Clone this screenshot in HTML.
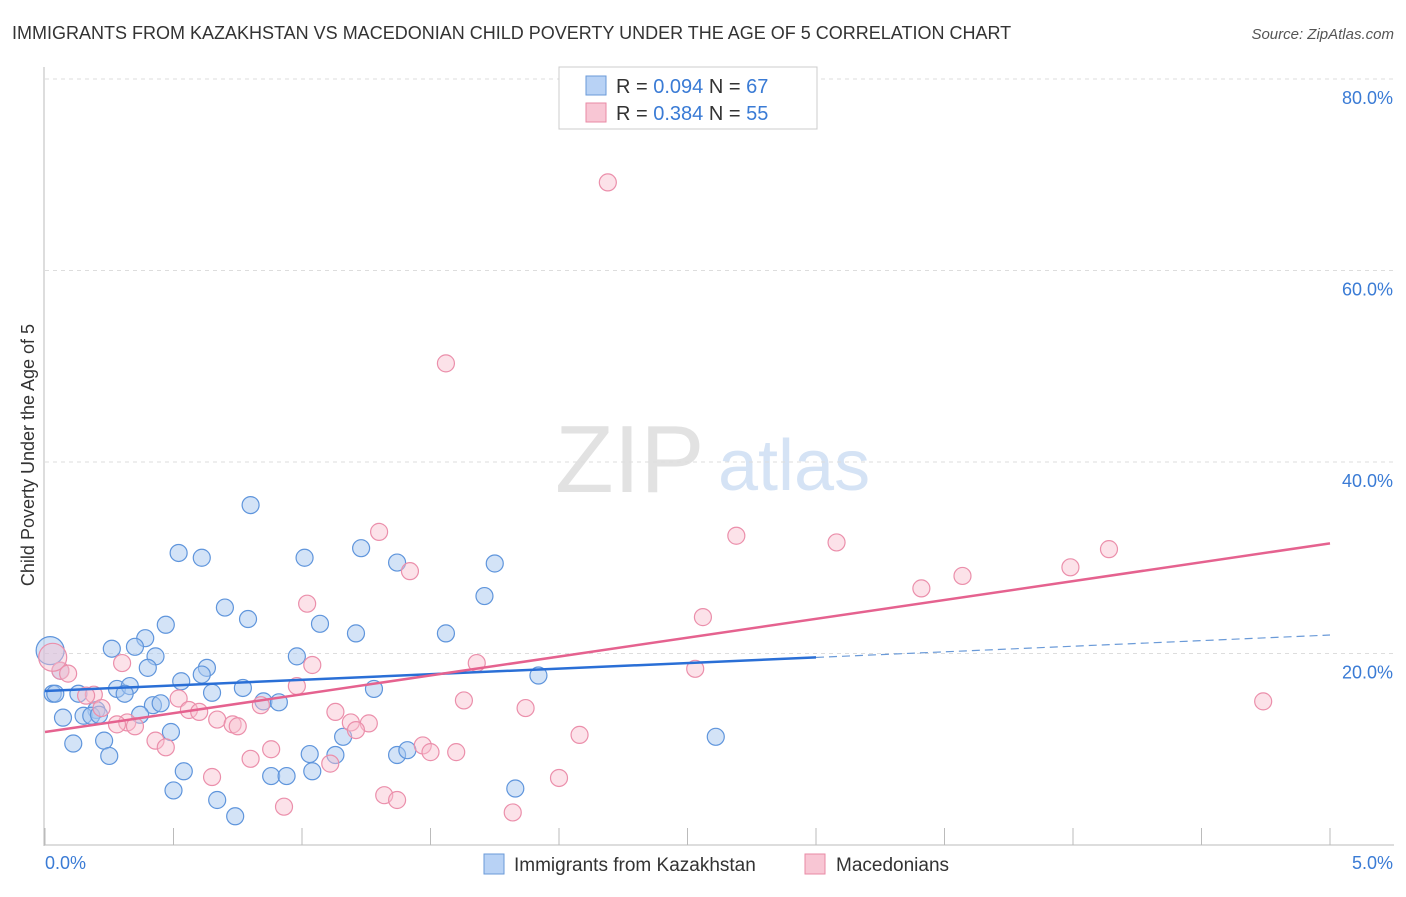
<!DOCTYPE html>
<html><head><meta charset="utf-8"><style>
body{margin:0;background:#fff;font-family:"Liberation Sans",sans-serif;}
svg text{font-family:"Liberation Sans",sans-serif;}
</style></head><body>
<svg id="chart" width="1406" height="892">
<text x="12" y="39" font-size="18" fill="#333">IMMIGRANTS FROM KAZAKHSTAN VS MACEDONIAN CHILD POVERTY UNDER THE AGE OF 5 CORRELATION CHART</text>
<text x="1394" y="39" font-size="15" fill="#555" text-anchor="end" font-style="italic">Source: ZipAtlas.com</text>
<text x="555" y="492" font-size="96" fill="#e2e2e2" font-family="Liberation Serif">ZIP</text>
<text x="718" y="490" font-size="72" fill="#d5e3f5">atlas</text>
<text transform="translate(34,455) rotate(-90)" font-size="18" fill="#333" text-anchor="middle">Child Poverty Under the Age of 5</text>
<g id="grid"></g><g id="pts"></g><g id="lines"></g>
<g>
<rect x="559" y="67" width="258" height="62" fill="#fff" stroke="#ccc"/>
<rect x="586" y="76" width="20" height="19" fill="#b8d2f5" stroke="#6a9ad8"/>
<text x="616" y="93" font-size="20" fill="#333">R = <tspan fill="#3a7bd5">0.094</tspan>   N = <tspan fill="#3a7bd5">67</tspan></text>
<rect x="586" y="103" width="20" height="19" fill="#f8c6d4" stroke="#e98aa5"/>
<text x="616" y="120" font-size="20" fill="#333">R = <tspan fill="#3a7bd5">0.384</tspan>   N = <tspan fill="#3a7bd5">55</tspan></text>
</g>
<g>
<rect x="484" y="854" width="20" height="20" fill="#b8d2f5" stroke="#6a9ad8"/>
<text x="514" y="871" font-size="19" fill="#333">Immigrants from Kazakhstan</text>
<rect x="805" y="854" width="20" height="20" fill="#f8c6d4" stroke="#e98aa5"/>
<text x="836" y="871" font-size="19" fill="#333">Macedonians</text>
</g>
</svg>
<script>
const yTicks=[20,40,60,80];
const yTickLabels=["20.0%","40.0%","60.0%","80.0%"];
const xTickLabels=["0.0%","5.0%"];
const blueX=[0.80,0.52,0.61,1.01,1.23,1.37,1.75,1.71,0.70,0.79,1.07,0.47,0.39,1.21,1.56,0.26,0.35,0.43,0.98,0.63,0.40,0.61,0.53,1.92,0.02,0.06,0.03,0.04,0.13,0.28,0.33,0.31,0.65,0.77,1.28,0.42,0.45,0.85,0.91,0.20,0.07,0.15,0.18,0.21,0.37,0.49,0.23,0.11,1.16,2.61,1.03,1.13,1.37,1.41,0.25,0.54,0.88,0.94,1.04,0.50,0.67,0.74,1.83];
const blueY=[35.5,30.5,30.0,30.0,31.0,29.5,29.4,26.0,24.8,23.6,23.1,23.0,21.6,22.1,22.1,20.5,20.7,19.7,19.7,18.5,18.5,17.8,17.1,17.7,20.3,18.2,15.8,15.8,15.8,16.3,16.6,15.8,15.9,16.4,16.3,14.6,14.8,15.0,14.9,14.1,13.3,13.5,13.5,13.6,13.6,11.8,10.9,10.6,11.3,11.3,9.5,9.4,9.4,9.9,9.3,7.7,7.2,7.2,7.7,5.7,4.7,3.0,5.9];
const pinkX=[2.19,1.56,1.30,2.69,3.08,4.14,3.99,3.57,3.41,1.42,1.02,2.56,1.68,2.53,1.04,0.06,0.09,0.30,0.19,0.52,0.98,4.74,1.63,1.87,0.22,0.56,0.60,0.84,1.13,0.32,0.28,0.35,0.67,0.73,0.75,1.19,1.26,1.21,0.43,2.08,0.47,0.88,0.80,1.11,1.47,1.50,1.60,0.65,2.00,1.32,1.37,0.93,1.82,0.16,0.03];
const pinkY=[69.2,50.3,32.7,32.3,31.6,30.9,29.0,28.1,26.8,28.6,25.2,23.8,19.0,18.4,18.8,18.2,17.9,19.0,15.7,15.3,16.6,15.0,15.1,14.3,14.3,14.1,13.9,14.6,13.9,12.8,12.6,12.4,13.1,12.6,12.4,12.8,12.7,12.0,10.9,11.5,10.2,10.0,9.0,8.5,10.4,9.7,9.7,7.1,7.0,5.2,4.7,4.0,3.4,15.6,19.6];
const blueFit=[16.08,21.93];
const pinkFit=[11.8,31.5];
const blueSolidEnd=3.0;
const X0=45,X1=1330,Y0=845,PPY=9.575;
function sx(v){return X0+(X1-X0)*v/5;}
function sy(v){return Y0-v*PPY;}
const NS="http://www.w3.org/2000/svg";
function mk(t,a,p){const e=document.createElementNS(NS,t);for(const k in a)e.setAttribute(k,a[k]);p.appendChild(e);return e;}
const grid=document.getElementById('grid');
mk('line',{x1:44,y1:67,x2:44,y2:846,stroke:'#bbb'},grid);
mk('line',{x1:44,y1:845,x2:1394,y2:845,stroke:'#bbb'},grid);
yTicks.forEach((t,i)=>{
 const l=mk('line',{x1:45,y1:sy(t),x2:1394,y2:sy(t),stroke:'#ddd','stroke-dasharray':'4,4'},grid);
 
 
 const tx=mk('text',{x:1393,y:sy(t)+25,'font-size':18,fill:'#3a7bd5','text-anchor':'end'},grid);
 tx.textContent=yTickLabels[i];
 
 
});
for(let i=0;i<=10;i++){
 const tk=mk('line',{x1:sx(i*0.5),y1:828,x2:sx(i*0.5),y2:845,stroke:'#bbb'},grid);
 
 
}
const xl0=mk('text',{x:45,y:869,'font-size':18,fill:'#3a7bd5'},grid);xl0.textContent=xTickLabels[0];


const xl1=mk('text',{x:1393,y:869,'font-size':18,fill:'#3a7bd5','text-anchor':'end'},grid);xl1.textContent=xTickLabels[1];


const pts=document.getElementById('pts');
blueX.forEach((x,i)=>{
 const c=mk('circle',{cx:sx(x),cy:sy(blueY[i]),r:(i==24?14:8.5),fill:'rgba(168,200,240,0.5)',stroke:'#5f95dc','stroke-width':1.2},pts);
 
 
});
pinkX.forEach((x,i)=>{
 const c=mk('circle',{cx:sx(x),cy:sy(pinkY[i]),r:(i==54?14:8.5),fill:'rgba(248,190,206,0.45)',stroke:'#eb8fab','stroke-width':1.2},pts);
 
 
});
const lines=document.getElementById('lines');
function fy(f,x){return f[0]+(f[1]-f[0])*x/5;}
const b1=mk('line',{x1:sx(0),y1:sy(fy(blueFit,0)),x2:sx(blueSolidEnd),y2:sy(fy(blueFit,blueSolidEnd)),stroke:'#2a6fd6','stroke-width':2.5},lines);


const b2=mk('line',{x1:sx(blueSolidEnd),y1:sy(fy(blueFit,blueSolidEnd)),x2:sx(5),y2:sy(fy(blueFit,5)),stroke:'#6a9ad8','stroke-width':1.2,'stroke-dasharray':'8,5'},lines);


const p1=mk('line',{x1:sx(0),y1:sy(fy(pinkFit,0)),x2:sx(5),y2:sy(fy(pinkFit,5)),stroke:'#e5628f','stroke-width':2.5},lines);


</script>
</body></html>
